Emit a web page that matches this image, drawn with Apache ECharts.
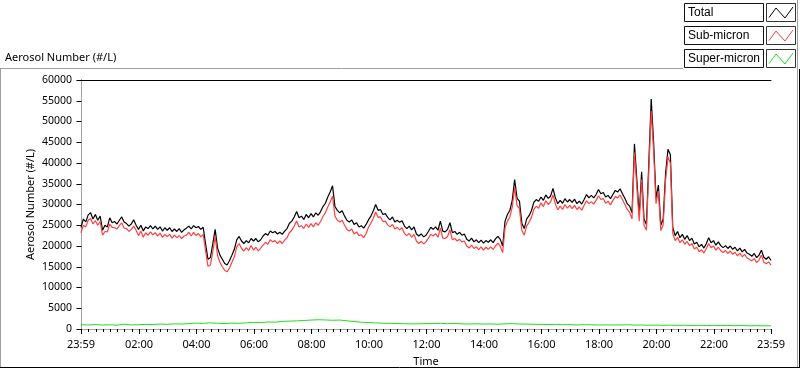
<!DOCTYPE html>
<html>
<head>
<meta charset="utf-8">
<script src="https://cdn.jsdelivr.net/npm/echarts@6/dist/echarts.min.js"></script>
<style>
html,body{margin:0;padding:0;background:#fff;}
#chart{width:800px;height:369px;}
</style>
</head>
<body>
<div id="chart"></div>
<script>
// ---------- DATA ----------
const seriesNames = ['Total', 'Sub-micron', 'Super-micron'];
const chartTitle = 'Aerosol Number (#/L)';
const yAxisName = 'Aerosol Number (#/L)';
const xAxisName = 'Time';
// x ticks: minutes since midnight (-1 = 23:59 previous day)
const xTickMinutes = [-1, 120, 240, 360, 480, 600, 720, 840, 960, 1080, 1200, 1320, 1439];
const xTickLabels = ['23:59', '02:00', '04:00', '06:00', '08:00', '10:00', '12:00', '14:00', '16:00', '18:00', '20:00', '22:00', '23:59'];
// sampling: Total / Sub-micron every 5 min from 23:59, Super-micron every 15 min
const stepFine = 5;
const stepCoarse = 15;

const total = [
24500,26500,25800,27500, 28000,26500,27600,26200, 27200,23800,25000,24600, 26800,25600,25900,25300,
26200,27000,25800,25400, 24800,25300,26300,25000, 24000,25000,23600,24600, 24200,24900,24100,24800,
24000,24600,23600,24400, 23800,24400,23500,24100, 23500,24200,23300,23900, 24300,24800,24100,24900,
24400,24700,24000,24500, 20500,16800,17200,20500, 24000,19500,17800,16800, 15800,15400,16500,17800,
19200,21500,22300,21200, 20600,21300,20800,21800, 21200,21800,21000,21500, 22400,23000,22600,23600,
23200,23500,22900,23300, 22800,23600,24200,25500, 26000,27000,28300,26800, 27200,26400,27600,26800,
27800,27000,28000,27400, 28300,29500,30300,31800, 33000,34500,29500,28600, 28000,28500,27200,26200,
25800,26300,25200,25600, 24600,24900,24300,25200, 26300,27200,28500,30000, 28600,28800,27600,27800,
26900,26300,27000,25800, 26200,25700,26100,24800, 24200,24800,23900,24600, 22900,22400,22900,22200,
22600,23500,24500,24000, 24600,23800,26000,23600, 23400,24000,25600,23200, 23500,22800,23300,22600,
22900,21600,21200,21900, 21000,21500,20800,21400, 20700,21300,20900,21500, 20800,21700,22300,21600,
20000,26000,27600,28600, 31000,36000,31500,30800, 25500,24200,26500,27300, 28500,30500,31200,30800,
31800,31000,32300,31500, 32000,33900,31600,30200, 31000,30300,31400,30600, 31200,30500,31300,30200,
30800,30100,31200,32400, 31600,32200,31600,32400, 33600,32600,32900,31800, 32200,31400,32400,33400,
33000,33800,32600,31500, 30200,29600,28000,44600, 36000,27500,37900,26500, 25200,40000,55400,45000,
31500,34700,25000,26500, 37500,43300,42000,24500, 22500,23500,22000,22800, 21600,22500,21300,21900,
20500,20900,19800,20400, 19500,20600,22000,20800, 21300,20200,21000,20100, 19600,20100,19400,20000,
19200,19700,18800,19500, 18600,19200,18300,18000, 17500,18200,17200,17800, 19000,17300,16800,17400,
16500
];

const subMicron = [
23200,25000,24600,26200, 26600,25300,26100,25000, 25900,22600,23500,23400, 25300,24500,24400,24100,
24900,25600,24300,24200, 23500,24000,24800,23800, 22500,23600,22100,23200, 22600,23400,22700,23200,
22400,23100,22100,22800, 22300,22800,21900,22600, 22000,22500,21800,22400, 22600,23300,22400,23300,
22500,23000,22200,22800, 18800,15100,15400,18600, 22300,17700,16000,15000, 14100,13800,14700,16100,
17400,19800,20600,19400, 18800,19600,18900,20100, 19000,19700,18800,19500, 20200,20900,20400,21500,
21000,21300,20600,21200, 20600,21400,22000,23200, 23800,24800,26000,24600, 24900,24200,25300,24500,
25400,24600,25600,25000, 25900,27100,28000,29400, 30600,32000,27200,26200, 25800,26200,25000,24000,
23600,24100,22900,23400, 22500,22700,22000,23000, 24500,25500,26700,28200, 26900,27000,25900,26000,
25100,24600,25200,24100, 24500,23900,24400,23000, 22500,23000,22100,22800, 21200,20600,21100,20500,
21000,21900,22800,22400, 23000,22100,24300,21900, 21800,22300,23900,21500, 21800,21200,21600,21000,
21200,20000,19500,20200, 19400,19800,19100,19800, 19000,19700,19200,19800, 19200,20000,20700,19900,
18400,24400,26000,27000, 29400,34000,29800,29000, 23800,22600,24800,25700, 26900,28800,29600,29100,
30400,29500,30900,30000, 30600,32300,30100,28700, 29600,28800,30000,29100, 29800,29000,29800,28800,
29400,28600,29800,30900, 30200,30700,30100,31000, 32100,31200,31400,30300, 30800,29900,31000,31900,
31600,32300,31200,30000, 28800,28100,26500,42500, 34300,26000,36000,25000, 23800,38000,52500,43000,
30200,33200,23700,25100, 35800,41500,40000,23000, 21300,22100,20800,21500, 20400,21100,20100,20600,
19300,19700,18600,19100, 18300,19400,20600,19600, 20000,19000,19700,18900, 18400,18900,18200,18800,
18000,18500,17600,18300, 17400,18000,17100,16800, 16400,17000,16000,16600, 17800,16100,15700,16200,
15400
];

const superMicron = [
1030,980,1060,950,1010,920,1150,980,1040,
1100,1070,1180,1120,1250,1190,1300,1420,
1350,1480,1380,1300,1420,1360,1500,1580,
1560,1700,1650,1820,1900,1960,2050,2150,
2230,2180,2100,2150,1980,1800,1620,1540,
1480,1400,1360,1300,1280,1230,1260,1300,
1320,1350,1280,1330,1250,1200,1260,1180,
1220,1150,1250,1300,1210,1180,1140,1100,
1080,1120,1030,1060,990,1040,1010,960,
1000,950,990,1020,930,960,900,940,
880,920,860,900,850,890,830,870,
820,850,790,830,780,810,760,790
];

// ---------- BUILD ----------
const startMin = -1;
const pair = (arr, step) => arr.map((v, i) => [startMin + i * step, v]);
const minorTicks = [];
for (let m = 15; m < 1439; m += 15) { if (m % 120 !== 0) minorTicks.push(m); }

const FONT = '"Noto Sans", "Open Sans", sans-serif';
const LFONT = '"Liberation Sans", Arial, sans-serif';
const colors = ['#000000', '#ff4040', '#1fe01f'];

const chart = echarts.init(document.getElementById('chart'), null, {renderer: 'canvas'});

// legend graphics (layout only)
const legendGraphics = [];
const rowTops = [3.5, 26.5, 49.5];
seriesNames.forEach((name, k) => {
  const top = rowTops[k];
  legendGraphics.push({
    type: 'rect', shape: {x: 684.5, y: top, width: 79, height: 18},
    style: {fill: '#fff', stroke: '#111', lineWidth: 1}, silent: true
  });
  legendGraphics.push({
    type: 'text', x: 688, y: top + 9.5,
    style: {text: name, font: '12px ' + LFONT, fill: '#000', verticalAlign: 'middle', align: 'left'}, silent: true
  });
  legendGraphics.push({
    type: 'rect', shape: {x: 766.5, y: top, width: 29, height: 18},
    style: {fill: '#fff', stroke: '#333', lineWidth: 1}, silent: true
  });
  legendGraphics.push({
    type: 'polyline', shape: {points: [[769, top + 14], [776, top + 4.5], [785, top + 14.5], [793, top + 3.5]]},
    style: {stroke: colors[k], lineWidth: 1, fill: null}, silent: true
  });
});

const frameGraphics = [
  {type: 'line', shape: {x1: 0, y1: 68.5, x2: 683, y2: 68.5}, style: {stroke: '#a0a0a0', lineWidth: 1}, silent: true},
  {type: 'line', shape: {x1: 0.5, y1: 68.5, x2: 0.5, y2: 367}, style: {stroke: '#a0a0a0', lineWidth: 1}, silent: true},
  {type: 'line', shape: {x1: 797.5, y1: 0, x2: 797.5, y2: 367}, style: {stroke: '#a0a0a0', lineWidth: 1}, silent: true},
  {type: 'line', shape: {x1: 0, y1: 367.5, x2: 799, y2: 367.5}, style: {stroke: '#000', lineWidth: 1}, silent: true},
  {type: 'line', shape: {x1: 799.5, y1: 69, x2: 799.5, y2: 368}, style: {stroke: '#000', lineWidth: 1}, silent: true},
  {type: 'text', x: 5, y: 58, style: {text: chartTitle, font: '11px ' + FONT, fill: '#000', verticalAlign: 'middle'}, silent: true}
];

const option = {
  animation: false,
  backgroundColor: '#ffffff',
  grid: {left: 81, right: 29, top: 80, bottom: 40, containLabel: false, outerBoundsMode: 'none'},
  xAxis: [
    {
      type: 'value', min: -1, max: 1439, position: 'bottom',
      name: xAxisName, nameLocation: 'middle', nameGap: 27, nameMoveOverlap: false,
      nameTextStyle: {fontFamily: FONT, fontSize: 11, color: '#000'},
      axisLine: {show: true, lineStyle: {color: '#a0a0a0', width: 1}},
      axisTick: {show: true, length: 5, customValues: xTickMinutes, lineStyle: {color: '#000'}},
      axisLabel: {
        show: true, customValues: xTickMinutes, margin: 10, fontFamily: FONT, fontSize: 11, color: '#000',
        formatter: v => { const i = xTickMinutes.indexOf(Math.round(v)); return i >= 0 ? xTickLabels[i] : ''; }
      },
      splitLine: {show: false}
    },
    {
      type: 'value', min: -1, max: 1439, position: 'bottom', offset: 0,
      axisLine: {show: false},
      axisTick: {show: true, length: 3, customValues: minorTicks, lineStyle: {color: '#000'}},
      axisLabel: {show: false},
      splitLine: {show: false}
    },
    {
      type: 'value', min: -1, max: 1439, position: 'top',
      axisLine: {show: true, lineStyle: {color: '#000', width: 1}},
      axisTick: {show: false}, axisLabel: {show: false}, splitLine: {show: false}
    }
  ],
  yAxis: [
    {
      type: 'value', min: 0, max: 60000, interval: 5000, position: 'left',
      name: yAxisName, nameLocation: 'middle', nameGap: 45, nameRotate: 90, nameMoveOverlap: false,
      nameTextStyle: {fontFamily: FONT, fontSize: 11, color: '#000'},
      axisLine: {show: true, lineStyle: {color: '#000', width: 1}},
      axisTick: {show: true, length: 5, lineStyle: {color: '#000'}},
      axisLabel: {margin: 9, fontFamily: FONT, fontSize: 10.5, color: '#000', formatter: v => String(v)},
      splitLine: {show: false}
    },
    {
      type: 'value', min: 0, max: 60000, position: 'right',
      axisLine: {show: true, lineStyle: {color: '#a0a0a0', width: 1}},
      axisTick: {show: false}, axisLabel: {show: false}, splitLine: {show: false}
    }
  ],
  series: [
    {name: seriesNames[0], type: 'line', data: pair(total, stepFine), showSymbol: false, symbol: 'none',
     lineStyle: {color: colors[0], width: 1.2}, itemStyle: {color: colors[0]}, xAxisIndex: 0, yAxisIndex: 0},
    {name: seriesNames[1], type: 'line', data: pair(subMicron, stepFine), showSymbol: false, symbol: 'none',
     lineStyle: {color: colors[1], width: 1.2}, itemStyle: {color: colors[1]}, xAxisIndex: 0, yAxisIndex: 0},
    {name: seriesNames[2], type: 'line', data: pair(superMicron, stepCoarse), showSymbol: false, symbol: 'none',
     lineStyle: {color: colors[2], width: 1}, itemStyle: {color: colors[2]}, xAxisIndex: 0, yAxisIndex: 0}
  ],
  graphic: frameGraphics.concat(legendGraphics)
};
chart.setOption(option);
</script>
</body>
</html>
